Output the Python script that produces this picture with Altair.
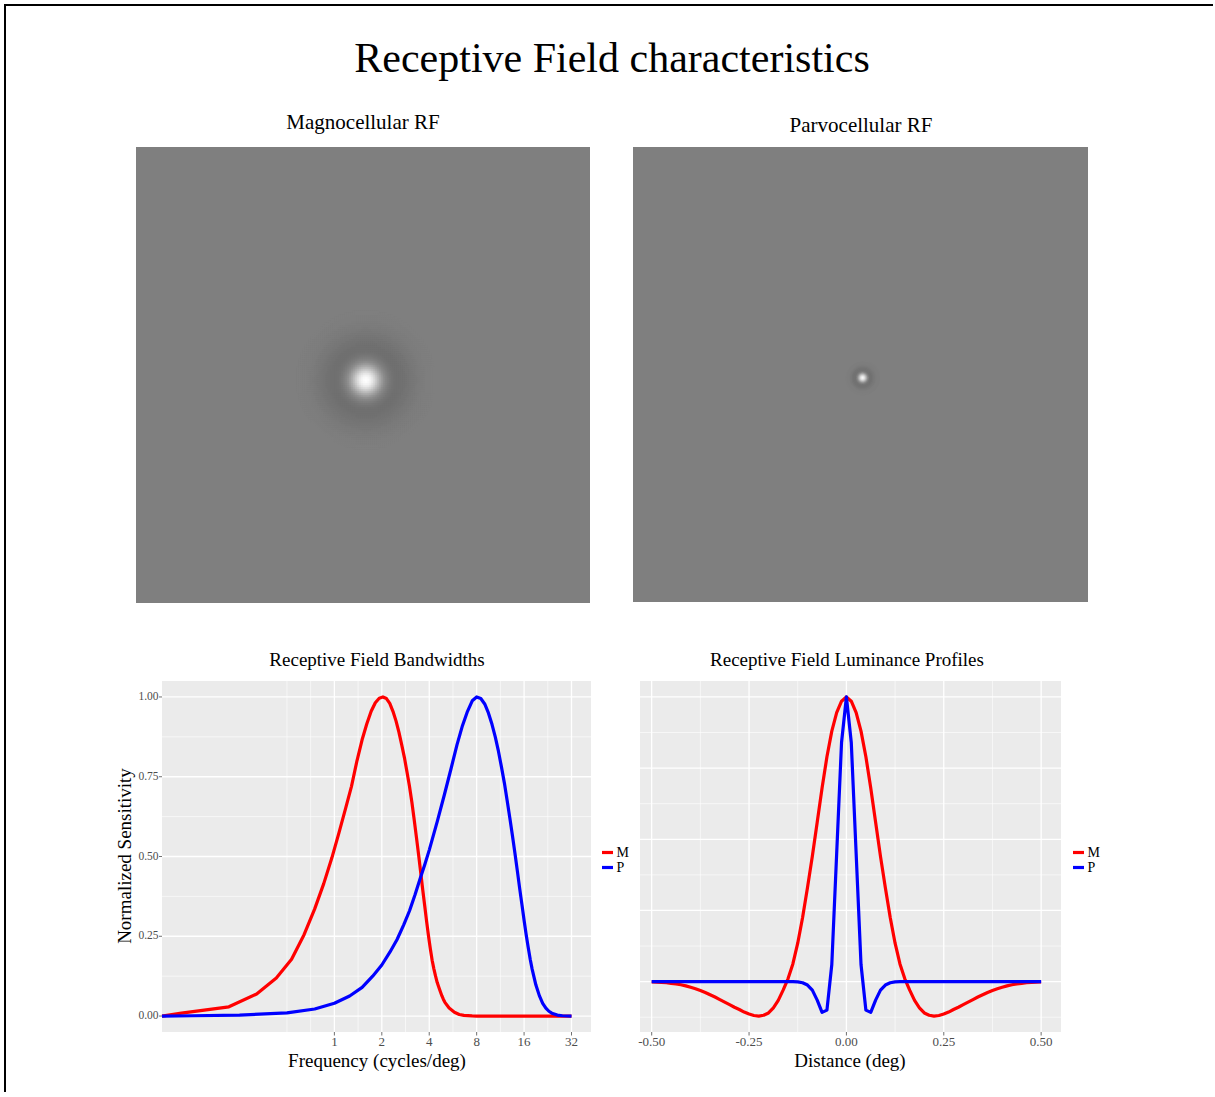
import altair as alt
import numpy as np
import pandas as pd

# ---------------- text ----------------
TITLE = "Receptive Field characteristics"
SUB_M = "Magnocellular RF"
SUB_P = "Parvocellular RF"
BW_TITLE = "Receptive Field Bandwidths"
LP_TITLE = "Receptive Field Luminance Profiles"
BW_XTITLE = "Frequency (cycles/deg)"
BW_YTITLE = "Normalized Sensitivity"
LP_XTITLE = "Distance (deg)"

SERIES = ["M", "P"]
SERIES_COLORS = ["#FF0000", "#0000FF"]

# ---------------- ticks / grid ----------------
BW_XTICKS = [1, 2, 4, 8, 16, 32]
BW_XLABELS = ["1", "2", "4", "8", "16", "32"]
BW_XMINOR = [0.5, 0.7071, 1.4142, 2.8284, 5.6569, 11.3137, 22.6274]
BW_YTICKS = [0, 0.25, 0.5, 0.75, 1.0]
BW_YLABELS = ["0.00", "0.25", "0.50", "0.75", "1.00"]
BW_YMINOR = [0.125, 0.375, 0.625, 0.875]
LP_XTICKS = [-0.5, -0.25, 0.0, 0.25, 0.5]
LP_XLABELS = ["-0.50", "-0.25", "0.00", "0.25", "0.50"]
LP_XMINOR = [-0.375, -0.125, 0.125, 0.375]
LP_YMAJOR = [0.0, 0.25, 0.5, 0.75, 1.0]
LP_YMINOR = [-0.125, 0.125, 0.375, 0.625, 0.875]

BW_XDOM = [0.0805, 42.55]
BW_YDOM = [-0.05, 1.05]
LP_XDOM = [-0.530, 0.551]
LP_YDOM = [-0.177, 1.056]

# ---------------- bandwidth curves ----------------
M_FREQ = [0.0805, 0.107, 0.214, 0.321, 0.428, 0.535, 0.642, 0.749, 0.856, 0.963,
          1.070, 1.177, 1.284, 1.391, 1.498, 1.605, 1.712, 1.819, 1.926, 2.033,
          2.140, 2.247, 2.354, 2.461, 2.568, 2.676, 2.783, 2.890, 2.997, 3.104,
          3.211, 3.318, 3.425, 3.532, 3.639, 3.746, 3.853, 3.960, 4.067, 4.174,
          4.281, 4.388, 4.495, 4.602, 4.709, 4.816, 4.923, 5.030, 5.351, 5.779,
          6.207, 6.635, 7.492, 8.0, 16.0, 32.0]
M_SENS = [0, 0.009, 0.029, 0.069, 0.119, 0.178, 0.255, 0.335, 0.415, 0.495,
          0.575, 0.65, 0.72, 0.80, 0.865, 0.915, 0.955, 0.982, 0.996, 1.0,
          0.995, 0.98, 0.955, 0.925, 0.89, 0.85, 0.81, 0.765, 0.72, 0.67,
          0.615, 0.56, 0.505, 0.45, 0.395, 0.345, 0.295, 0.25, 0.21, 0.175,
          0.148, 0.125, 0.105, 0.09, 0.076, 0.063, 0.052, 0.043, 0.025, 0.012,
          0.005, 0.002, 0.0003, 0, 0, 0]

P_FREQ = [0.0805, 0.125, 0.25, 0.5, 0.75, 1.0, 1.25, 1.5, 1.75, 2.0,
          2.25, 2.5, 2.75, 3.0, 3.25, 3.5, 3.75, 4.0, 4.5, 5.0,
          5.5, 6.0, 6.5, 7.0, 7.5, 8.0, 8.5, 9.0, 9.5, 10.0,
          10.5, 11.0, 11.5, 12.0, 12.5, 13.0, 13.5, 14.0, 14.5, 15.0,
          15.5, 16.0, 16.5, 17.0, 17.5, 18.0, 19.0, 20.0, 21.0, 22.0,
          23.0, 24.0, 26.0, 28.0, 32.0]
P_SENS = [0, 0.001, 0.003, 0.01, 0.022, 0.04, 0.063, 0.09, 0.125, 0.16,
          0.2, 0.24, 0.285, 0.33, 0.38, 0.43, 0.475, 0.52, 0.61, 0.695,
          0.775, 0.85, 0.91, 0.955, 0.988, 1.0, 0.995, 0.978, 0.95, 0.915,
          0.875, 0.83, 0.78, 0.73, 0.675, 0.62, 0.565, 0.51, 0.455, 0.40,
          0.35, 0.30, 0.255, 0.215, 0.178, 0.147, 0.098, 0.064, 0.04, 0.025,
          0.015, 0.009, 0.003, 0.001, 0]

# ---------------- luminance profiles (x = -0.5 .. 0.5, step 0.0125) ----------------
LP_X = [round(-0.5 + 0.0125 * i, 4) for i in range(81)]
M_PROFILE = [-0.001, -0.002, -0.003, -0.004, -0.006, -0.008, -0.011, -0.015, -0.02, -0.025,
             -0.031, -0.038, -0.046, -0.054, -0.063, -0.072, -0.081, -0.09, -0.098, -0.107,
             -0.114, -0.119, -0.121, -0.118, -0.11, -0.092, -0.066, -0.03, 0.01, 0.062,
             0.135, 0.225, 0.33, 0.44, 0.56, 0.68, 0.79, 0.88, 0.945, 0.985,
             1.0,
             0.985, 0.945, 0.88, 0.79, 0.68, 0.56, 0.44, 0.33, 0.225, 0.135,
             0.062, 0.01, -0.03, -0.066, -0.092, -0.11, -0.118, -0.121, -0.119, -0.114,
             -0.107, -0.098, -0.09, -0.081, -0.072, -0.063, -0.054, -0.046, -0.038, -0.031,
             -0.025, -0.02, -0.015, -0.011, -0.008, -0.006, -0.004, -0.003, -0.002, -0.001]
P_PROFILE = [0, 0, 0, 0, 0, 0, 0, 0, 0, 0,
             0, 0, 0, 0, 0, 0, 0, 0, 0, 0,
             0, 0, 0, 0, 0, 0, 0, 0, 0, 0,
             -0.001, -0.004, -0.012, -0.03, -0.065, -0.108, -0.10, 0.06, 0.45, 0.84,
             1.0,
             0.84, 0.45, 0.06, -0.10, -0.108, -0.065, -0.03, -0.012, -0.004, -0.001,
             0, 0, 0, 0, 0, 0, 0, 0, 0, 0,
             0, 0, 0, 0, 0, 0, 0, 0, 0, 0,
             0, 0, 0, 0, 0, 0, 0, 0, 0, 0]

# image extents in degrees (centre of RF at 0)
IMG_M_XDOM = [-1.621, 1.579]
IMG_M_YDOM = [-1.572, 1.642]
IMG_P_XDOM = [-1.619, 1.588]
IMG_P_YDOM = [-1.581, 1.626]

# ---------------- layout / style ----------------
W, H = 1213, 1092
SERIF = "Liberation Serif"
GRAY_TXT = "#4D4D4D"
TICK_COL = "#333333"
PANEL_BG = "#EBEBEB"
dummy = pd.DataFrame({"a": [0]})


def rf_cells(profile, half, cell):
    xs = np.array(LP_X[40:])
    vs = np.array(profile[40:])
    n = int(np.ceil(half / cell))
    c = np.arange(-n, n + 1) * cell
    X, Y = np.meshgrid(c, c)
    R = np.hypot(X, Y).ravel()
    V = np.interp(R, xs, vs, right=0.0)
    e = cell * 0.62
    df = pd.DataFrame({"x0": X.ravel() - e, "x1": X.ravel() + e,
                       "y0": Y.ravel() - e, "y1": Y.ravel() + e, "v": V})
    return df[np.abs(df["v"]) >= 0.002]


def xdat(v, s):
    return alt.XDatum(v, scale=s, axis=None, type="quantitative")


def ydat(v, s):
    return alt.YDatum(v, scale=s, axis=None, type="quantitative")


def image_panel(df, xdom, ydom, xrange, yrange):
    xs = alt.Scale(domain=xdom, range=xrange, nice=False, zero=False)
    ys = alt.Scale(domain=ydom, range=yrange, nice=False, zero=False)
    bg = alt.Chart(dummy).mark_rect(color="#7F7F7F").encode(
        x=xdat(xdom[0], xs), x2=alt.X2Datum(xdom[1]),
        y=ydat(ydom[0], ys), y2=alt.Y2Datum(ydom[1]),
    )
    cells = alt.Chart(df).mark_rect(strokeWidth=0).encode(
        x=alt.X("x0:Q", scale=xs, axis=None), x2="x1:Q",
        y=alt.Y("y0:Q", scale=ys, axis=None), y2="y1:Q",
        color=alt.Color("v:Q", legend=None,
                        scale=alt.Scale(domain=[-1, 1], range=["#000000", "#FEFEFE"],
                                        interpolate="rgb")),
    )
    return alt.layer(bg, cells)


def panel_layers(xs, ys, xdom, ydom, xmaj, xlab, xmin, ymaj, ymin, ylab=None):
    out = []
    # tick marks (drawn first, the panel background hides their inner half)
    out.append(alt.Chart(pd.DataFrame({"g": xmaj})).mark_tick(
        orient="vertical", size=7, thickness=1, color=TICK_COL).encode(
        x=alt.X("g:Q", scale=xs, axis=None), y=ydat(ydom[0], ys)))
    if ylab is not None:
        out.append(alt.Chart(pd.DataFrame({"g": ymaj})).mark_tick(
            orient="horizontal", size=6, thickness=1, color=TICK_COL).encode(
            y=alt.Y("g:Q", scale=ys, axis=None), x=xdat(xdom[0], xs)))
    # panel background
    out.append(alt.Chart(dummy).mark_rect(color=PANEL_BG).encode(
        x=xdat(xdom[0], xs), x2=alt.X2Datum(xdom[1]),
        y=ydat(ydom[0], ys), y2=alt.Y2Datum(ydom[1]),
    ))
    for vals, wdt in ((xmin, 0.6), (xmaj, 1.3)):
        out.append(alt.Chart(pd.DataFrame({"g": vals})).mark_rule(color="white", strokeWidth=wdt).encode(
            x=alt.X("g:Q", scale=xs, axis=None),
            y=ydat(ydom[0], ys), y2=alt.Y2Datum(ydom[1]),
        ))
    for vals, wdt in ((ymin, 0.6), (ymaj, 1.3)):
        out.append(alt.Chart(pd.DataFrame({"g": vals})).mark_rule(color="white", strokeWidth=wdt).encode(
            y=alt.Y("g:Q", scale=ys, axis=None),
            x=xdat(xdom[0], xs), x2=alt.X2Datum(xdom[1]),
        ))
    # tick labels
    out.append(alt.Chart(pd.DataFrame({"g": xmaj, "lab": xlab})).mark_text(
        font=SERIF, fontSize=13, color=GRAY_TXT, align="center", baseline="top", dy=3.7).encode(
        x=alt.X("g:Q", scale=xs, axis=None), y=ydat(ydom[0], ys), text="lab:N"))
    if ylab is not None:
        out.append(alt.Chart(pd.DataFrame({"g": ymaj, "lab": ylab})).mark_text(
            font=SERIF, fontSize=11.5, color=GRAY_TXT, align="right", baseline="middle", dx=-3.5).encode(
            y=alt.Y("g:Q", scale=ys, axis=None), x=xdat(xdom[0], xs), text="lab:N"))
    return out


def legend(x, y):
    return alt.Legend(orient="none", legendX=x, legendY=y, title=None, direction="vertical",
                      symbolType="stroke", symbolSize=121, symbolStrokeWidth=3.2,
                      labelFont=SERIF, labelFontSize=14, labelColor="black",
                      labelOffset=1.5, rowPadding=-2, padding=0)


cell_color = alt.Scale(domain=SERIES, range=SERIES_COLORS)

# ---------- top images ----------
img_m = image_panel(rf_cells(M_PROFILE, 0.52, 2 / 141.9), IMG_M_XDOM, IMG_M_YDOM, [136, 590], [603, 147])
img_p = image_panel(rf_cells(P_PROFILE, 0.14, 1 / 141.9), IMG_P_XDOM, IMG_P_YDOM, [633, 1088], [602, 147])

# ---------- bandwidths ----------
BW_XS = alt.Scale(type="log", base=2, domain=BW_XDOM, range=[162, 591], nice=False)
BW_YS = alt.Scale(domain=BW_YDOM, range=[1032, 681], nice=False, zero=False)
bw_df = pd.concat([
    pd.DataFrame({"freq": M_FREQ, "sens": M_SENS, "cell": "M"}),
    pd.DataFrame({"freq": P_FREQ, "sens": P_SENS, "cell": "P"}),
])
bw_lines = alt.Chart(bw_df).mark_line(strokeWidth=3.2, strokeJoin="round").encode(
    x=alt.X("freq:Q", scale=BW_XS, axis=None),
    y=alt.Y("sens:Q", scale=BW_YS, axis=None),
    color=alt.Color("cell:N", scale=cell_color, legend=legend(600, 845)),
    order=alt.Order("freq:Q"),
)
bw = alt.layer(*panel_layers(BW_XS, BW_YS, BW_XDOM, BW_YDOM, BW_XTICKS, BW_XLABELS, BW_XMINOR,
                             BW_YTICKS, BW_YMINOR, BW_YLABELS),
               bw_lines)

# ---------- luminance profiles ----------
LP_XS = alt.Scale(domain=LP_XDOM, range=[640, 1061], nice=False, zero=False)
LP_YS = alt.Scale(domain=LP_YDOM, range=[1032, 681], nice=False, zero=False)
lp_df = pd.concat([
    pd.DataFrame({"dist": LP_X, "lum": M_PROFILE, "cell": "M"}),
    pd.DataFrame({"dist": LP_X, "lum": P_PROFILE, "cell": "P"}),
])
lp_lines = alt.Chart(lp_df).mark_line(strokeWidth=3.2, strokeJoin="round").encode(
    x=alt.X("dist:Q", scale=LP_XS, axis=None),
    y=alt.Y("lum:Q", scale=LP_YS, axis=None),
    color=alt.Color("cell:N", scale=cell_color, legend=legend(1071, 845)),
    order=alt.Order("dist:Q"),
)
lp = alt.layer(*panel_layers(LP_XS, LP_YS, LP_XDOM, LP_YDOM, LP_XTICKS, LP_XLABELS, LP_XMINOR,
                             LP_YMAJOR, LP_YMINOR),
               lp_lines)


# ---------- titles ----------
def label(txt, x, y, size, angle=0):
    return alt.Chart(pd.DataFrame({"t": [txt]})).mark_text(
        font=SERIF, fontSize=size, align="center", baseline="alphabetic", color="black", angle=angle
    ).encode(text="t:N", x=alt.value(x), y=alt.value(y))


texts = [
    label(TITLE, 612, 72, 42),
    label(SUB_M, 363, 129, 21),
    label(SUB_P, 861, 132, 21),
    label(BW_TITLE, 377, 666, 19),
    label(LP_TITLE, 847, 666, 19),
    label(BW_XTITLE, 377, 1067, 19),
    label(LP_XTITLE, 850, 1067, 19),
    label(BW_YTITLE, 131, 856, 19, angle=270),
]

frame_top = alt.Chart(dummy).mark_rule(color="black", strokeWidth=2).encode(
    x=alt.value(4), x2=alt.value(W), y=alt.value(5))
frame_left = alt.Chart(dummy).mark_rule(color="black", strokeWidth=2).encode(
    x=alt.value(5), y=alt.value(4), y2=alt.value(H))

chart = alt.layer(
    frame_top, frame_left, img_m, img_p, bw, lp, *texts
).resolve_scale(
    x="independent", y="independent", color="independent"
).properties(
    width=W, height=H, autosize=alt.AutoSizeParams(type="none"), padding=0
).configure_view(strokeWidth=0)

chart.save("out.html", embed_options={"renderer": "svg", "actions": False})
